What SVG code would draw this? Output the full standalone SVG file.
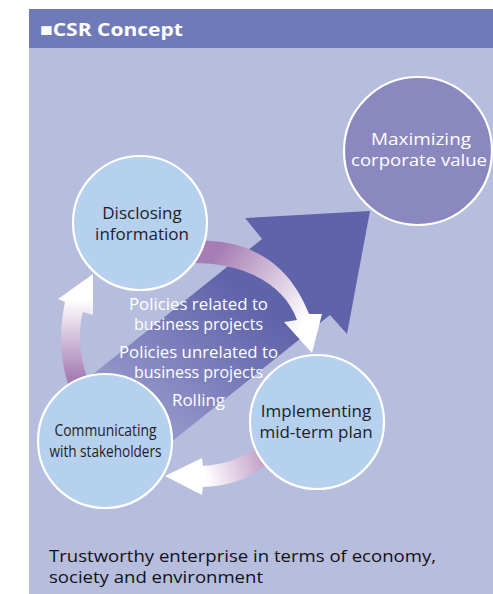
<svg xmlns="http://www.w3.org/2000/svg" width="493" height="594" viewBox="0 0 493 594">
<defs>
<style>
.t{font-family:"Open Sans","Noto Sans","Liberation Sans",sans-serif;font-size:17px;text-anchor:middle}
.p{font-size:16px}
.dk{fill:#1e1e28}
.wh{fill:#ffffff}
.node{stroke:#ffffff;stroke-width:2.2}
.b{font-family:"Open Sans","Noto Sans","Liberation Sans",sans-serif;font-size:17px;fill:#111118}
</style>
<linearGradient id="gBig" gradientUnits="userSpaceOnUse" x1="240" y1="290" x2="130" y2="430">
<stop offset="0" stop-color="#5f63a9"/>
<stop offset="1" stop-color="#9c9ecf"/>
</linearGradient>
<linearGradient id="g1" gradientUnits="userSpaceOnUse" x1="205" y1="248" x2="305" y2="322">
<stop offset="0.1" stop-color="#a67db4"/>
<stop offset="1" stop-color="#ffffff"/>
</linearGradient>
<linearGradient id="g2" gradientUnits="userSpaceOnUse" x1="75" y1="378" x2="75" y2="300">
<stop offset="0" stop-color="#a57db4"/>
<stop offset="1" stop-color="#ffffff"/>
</linearGradient>
<linearGradient id="g3" gradientUnits="userSpaceOnUse" x1="262" y1="460" x2="205" y2="476">
<stop offset="0" stop-color="#c5a2ca"/>
<stop offset="1" stop-color="#ffffff"/>
</linearGradient>
</defs>
<rect x="29" y="9" width="464" height="585" fill="#b7bddd"/>
<rect x="29" y="9" width="464" height="39" fill="#6f7bb8"/>
<text x="40" y="36" font-family="'Open Sans','Noto Sans','Liberation Sans',sans-serif" font-size="18" font-weight="bold" fill="#ffffff" textLength="143" lengthAdjust="spacingAndGlyphs">■CSR Concept</text>

<g id="connectors">
<path id="bigArrow" d="M370,211 L347,334 L330,315 L123.6,480 L60,400.6 L262,239 L245,218 Z" fill="url(#gBig)"/>
<path id="arc1" d="M190,241 C235,238 285,252 309,314 L322,314 L312,353 L284,322 L297,320 C285,285 245,262 190,263 Z" fill="url(#g1)"/>
<path id="arc2" d="M72,395 C60,365 58,335 65,302 L58,299 L93,274 L93,315 L83,312 C77,335 80,360 92,392 Z" fill="url(#g2)"/>
<path id="arc3" d="M268,436 C250,456 230,464 203,466 L202,458 L165,476 L202,495 L203,487 C235,486 260,475 277,452 Z" fill="url(#g3)"/>
</g>

<g id="labels">
<text class="t p wh" x="198.5" y="310" textLength="139" lengthAdjust="spacingAndGlyphs">Policies related to</text>
<text class="t p wh" x="198.5" y="330" textLength="129" lengthAdjust="spacingAndGlyphs">business projects</text>
<text class="t p wh" x="198.5" y="358" textLength="159" lengthAdjust="spacingAndGlyphs">Policies unrelated to</text>
<text class="t p wh" x="198.5" y="378" textLength="129" lengthAdjust="spacingAndGlyphs">business projects</text>
<text class="t p wh" x="198.5" y="406" textLength="53" lengthAdjust="spacingAndGlyphs">Rolling</text>
</g>

<g id="node-maximizing">
<circle class="node" cx="418" cy="151" r="74" fill="#8a88bf"/>
<text class="t wh" x="421" y="145" textLength="100" lengthAdjust="spacingAndGlyphs">Maximizing</text>
<text class="t wh" x="419" y="166" textLength="136" lengthAdjust="spacingAndGlyphs">corporate value</text>
</g>
<g id="node-disclosing">
<circle class="node" cx="140" cy="223" r="67" fill="#b5d1ee"/>
<text class="t dk" x="142" y="219">Disclosing</text>
<text class="t dk" x="142" y="240">information</text>
</g>
<g id="node-communicating">
<circle class="node" cx="105" cy="441" r="67" fill="#b5d1ee"/>
<text class="t dk" x="105.5" y="436" textLength="102" lengthAdjust="spacingAndGlyphs">Communicating</text>
<text class="t dk" x="105.5" y="457" textLength="112" lengthAdjust="spacingAndGlyphs">with stakeholders</text>
</g>
<g id="node-implementing">
<circle class="node" cx="317" cy="422" r="67" fill="#b5d1ee"/>
<text class="t dk" x="316" y="417">Implementing</text>
<text class="t dk" x="316" y="438">mid-term plan</text>
</g>

<text class="b" x="49" y="562" textLength="387" lengthAdjust="spacingAndGlyphs">Trustworthy enterprise in terms of economy,</text>
<text class="b" x="49" y="583" textLength="214" lengthAdjust="spacingAndGlyphs">society and environment</text>
</svg>
